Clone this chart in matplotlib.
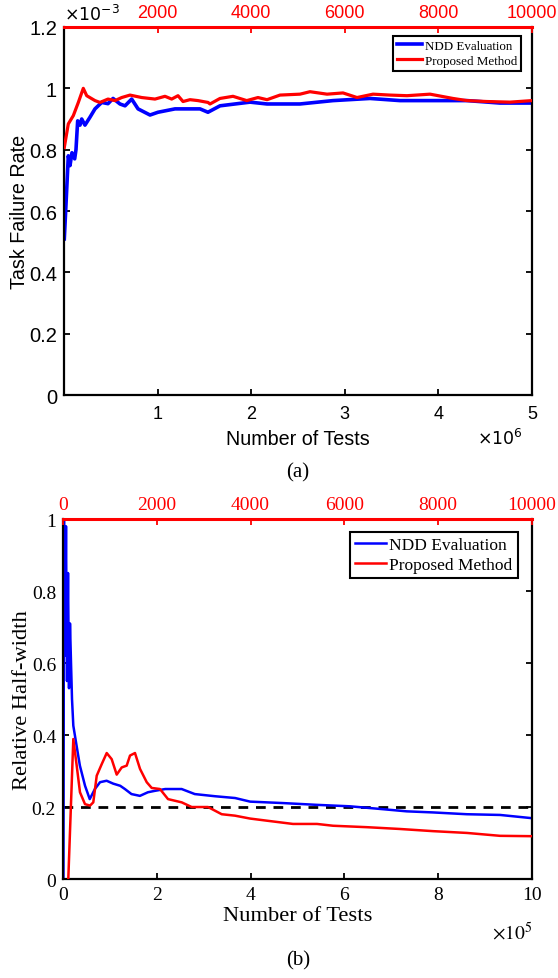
import matplotlib
matplotlib.use('Agg')
import numpy as np
import matplotlib.pyplot as plt
from matplotlib.ticker import FuncFormatter

#----------------------------
#   DATA
#----------------------------
# (a) task failure rate, NDD evaluation on bottom axis (tests)
a_ndd_tests = [3200, 21000, 46000, 64000, 85000, 114000, 128000, 146000, 171000, 189000,
               224000, 278000, 331000, 403000, 470000, 524000, 598000, 652000, 723000, 791000,
               919000, 1004000, 1186000, 1400000, 1453000, 1538000, 1667000, 1987000, 2169000,
               2521000, 2874000, 3269000, 3590000, 3942000, 4306000, 4658000, 5000000]
a_ndd_rate = [0.509, 0.62, 0.78, 0.748, 0.79, 0.77, 0.80, 0.894, 0.88, 0.90,
              0.88, 0.906, 0.933, 0.954, 0.95, 0.967, 0.949, 0.943, 0.965, 0.933,
              0.913, 0.922, 0.933, 0.933, 0.933, 0.922, 0.943, 0.955, 0.949,
              0.949, 0.96, 0.967, 0.96, 0.96, 0.96, 0.952, 0.952]
# (a) proposed method on top axis (tests)
a_prop_tests = [6, 92, 199, 306, 412, 485, 662, 769, 940, 1090, 1233, 1410, 1660, 1944, 2158,
                2301, 2436, 2543, 2692, 2863, 3077, 3120, 3333, 3611, 3904, 4145, 4338, 4615,
                5043, 5256, 5620, 5962, 6261, 6603, 6966, 7329, 7821, 8312, 8611, 9038, 9530, 10000]
a_prop_rate = [0.807, 0.884, 0.911, 0.954, 1.0, 0.976, 0.96, 0.954, 0.965, 0.96, 0.97, 0.978,
               0.97, 0.965, 0.974, 0.965, 0.976, 0.957, 0.963, 0.96, 0.954, 0.949, 0.967, 0.974,
               0.96, 0.97, 0.963, 0.978, 0.981, 0.989, 0.981, 0.985, 0.97, 0.981, 0.978, 0.976,
               0.981, 0.967, 0.96, 0.957, 0.955, 0.96]
a_scale_y = 1e-3

# (b) relative half-width
b_ndd_tests = [1000, 2100, 4300, 6400, 8500, 10700, 12800, 14900, 17100, 19200, 22000, 29000,
               36000, 47000, 57000, 68000, 79000, 93000, 107000, 122000, 132000, 146000, 164000,
               181000, 196000, 218000, 253000, 281000, 324000, 367000, 399000, 469000, 542000,
               612000, 682000, 733000, 789000, 861000, 932000, 1000000]
b_ndd_hw = [0.0, 1.0, 0.62, 0.98, 0.55, 0.85, 0.53, 0.71, 0.6, 0.5, 0.426, 0.37,
            0.315, 0.259, 0.222, 0.25, 0.269, 0.273, 0.265, 0.259, 0.25, 0.236, 0.231,
            0.241, 0.245, 0.25, 0.25, 0.236, 0.23, 0.225, 0.215, 0.211, 0.206,
            0.202, 0.194, 0.188, 0.185, 0.18, 0.178, 0.169]
b_prop_tests = [113, 220, 292, 362, 469, 576, 646, 719, 825, 932, 1038, 1145, 1252, 1358, 1429,
                1535, 1642, 1785, 1891, 2068, 2239, 2531, 2744, 3092, 3384, 3667, 3987, 4350,
                4904, 5416, 5757, 6482, 7186, 7889, 8614, 9318, 10000]
b_prop_hw = [0.0, 0.389, 0.315, 0.241, 0.208, 0.204, 0.213, 0.287, 0.319, 0.35, 0.333, 0.29,
             0.31, 0.315, 0.343, 0.35, 0.306, 0.269, 0.253, 0.25, 0.222, 0.213, 0.2, 0.2,
             0.18, 0.176, 0.168, 0.162, 0.153, 0.153, 0.148, 0.144, 0.139, 0.133, 0.128,
             0.12, 0.119]
b_target = 0.2

BLUE = '#0000ff'
RED = '#ff0000'
SANS = 'Liberation Sans'
SERIF = 'Liberation Serif'


def fmt(scale, hide_zero=False):
    def f(v, pos):
        if hide_zero and abs(v) < 1e-12:
            return ''
        return '%g' % round(v / scale, 6)
    return FuncFormatter(f)


def style_axes(ax, ax2, family, xsize, ysize, xpad):
    for s in ['left', 'bottom', 'right']:
        ax.spines[s].set_linewidth(1.6)
        ax.spines[s].set_color('black')
    ax.spines['top'].set_visible(False)
    for s in ['left', 'bottom', 'right']:
        ax2.spines[s].set_visible(False)
    ax2.spines['top'].set_color(RED)
    ax2.spines['top'].set_linewidth(2.2)
    ax.tick_params(axis='both', direction='in', length=4, width=1.3, colors='black',
                   right=True, top=False)
    ax.tick_params(axis='x', labelsize=xsize, pad=xpad)
    ax.tick_params(axis='y', labelsize=ysize, pad=5)
    ax2.tick_params(axis='x', direction='in', length=4, width=1.3, colors=RED,
                    labelcolor=RED, labelsize=xsize, pad=4)
    for lab in ax.get_xticklabels() + ax.get_yticklabels() + ax2.get_xticklabels():
        lab.set_family(family)


fig = plt.figure(figsize=(5.58, 9.79), dpi=100)

#----------------------------
#          (a)
#----------------------------
ax = fig.add_axes([0.1147, 0.5955, 0.8387, 0.3759])
ax2 = ax.twiny()
l1, = ax.plot(a_ndd_tests, np.array(a_ndd_rate) * a_scale_y, color=BLUE, lw=2.6,
              label='NDD Evaluation')
l2, = ax2.plot(a_prop_tests, np.array(a_prop_rate) * a_scale_y, color=RED, lw=2.3,
               label='Proposed Method')
ax.set_xlim(0, 5e6)
ax.set_ylim(0, 1.2e-3)
ax2.set_xlim(0, 10000)
ax.set_xticks([1e6, 2e6, 3e6, 4e6, 5e6])
ax.set_yticks(np.arange(0, 1.21, 0.2) * 1e-3)
ax2.set_xticks([2000, 4000, 6000, 8000, 10000])
ax.xaxis.set_major_formatter(fmt(1e6))
ax.yaxis.set_major_formatter(fmt(1e-3))
ax2.xaxis.set_major_formatter(fmt(1))
style_axes(ax, ax2, SANS, 13, 14.5, 7)
ax.set_xlabel('Number of Tests', family=SANS, fontsize=14.2, labelpad=5)
ax.set_ylabel('Task Failure Rate', family=SANS, fontsize=14.2, labelpad=0)
ax.text(0.0, 1.012, r'$\times10^{-3}$', transform=ax.transAxes, ha='left', va='bottom',
        fontsize=12.5, family=SANS, math_fontfamily='dejavusans')
ax.text(0.981, -0.133, r'$\times10^{6}$', transform=ax.transAxes, ha='right', va='baseline',
        fontsize=12.5, family=SANS, math_fontfamily='dejavusans')
leg = ax2.legend([l1, l2], ['NDD Evaluation', 'Proposed Method'], loc='upper right',
                 bbox_to_anchor=(0.977, 0.976), borderaxespad=0, fancybox=False,
                 edgecolor='black', framealpha=1, handlelength=1.9, handletextpad=0.25,
                 borderpad=0.3, labelspacing=0.2, prop={'family': SERIF, 'size': 9.4})
leg.get_frame().set_linewidth(1.5)
fig.text(0.534, 0.517, '(a)', ha='center', va='center', family=SERIF, fontsize=15)

#----------------------------
#          (b)
#----------------------------
bx = fig.add_axes([0.1129, 0.1011, 0.8405, 0.3677])
bx2 = bx.twiny()
bx.axhline(b_target, color='black', lw=2, ls=(0, (3.5, 2.8)), zorder=1)
m1, = bx.plot(b_ndd_tests, b_ndd_hw, color=BLUE, lw=1.8, label='NDD Evaluation', zorder=2)
m2, = bx2.plot(b_prop_tests, b_prop_hw, color=RED, lw=1.8, label='Proposed Method')
bx.set_xlim(0, 1e6)
bx.set_ylim(0, 1)
bx2.set_xlim(0, 10000)
bx.set_xticks(np.arange(0, 10.1, 2) * 1e5)
bx.set_yticks(np.arange(0, 1.01, 0.2))
bx2.set_xticks(np.arange(0, 10001, 2000))
bx.xaxis.set_major_formatter(fmt(1e5))
bx.yaxis.set_major_formatter(fmt(1))
bx2.xaxis.set_major_formatter(fmt(1))
style_axes(bx, bx2, SERIF, 14, 14, 5)
bx.set_xlabel('Number of Tests', family=SERIF, fontsize=16.2, labelpad=2)
bx.set_ylabel('Relative Half-width', family=SERIF, fontsize=16.2, labelpad=0)
bx.text(1.0, -0.115, r'$\times10^{5}$', transform=bx.transAxes, ha='right', va='top',
        fontsize=14, family=SERIF, math_fontfamily='stix')
leg = bx2.legend([m1, m2], ['NDD Evaluation', 'Proposed Method'], loc='upper right',
                 bbox_to_anchor=(0.970, 0.964), borderaxespad=0, fancybox=False,
                 edgecolor='black', framealpha=1, handlelength=1.8, handletextpad=0.2,
                 borderpad=0.3, labelspacing=0.2, prop={'family': SERIF, 'size': 12.5})
leg.get_frame().set_linewidth(1.5)
fig.text(0.534, 0.019, '(b)', ha='center', va='center', family=SERIF, fontsize=15)

plt.savefig('out.png', dpi=100)
